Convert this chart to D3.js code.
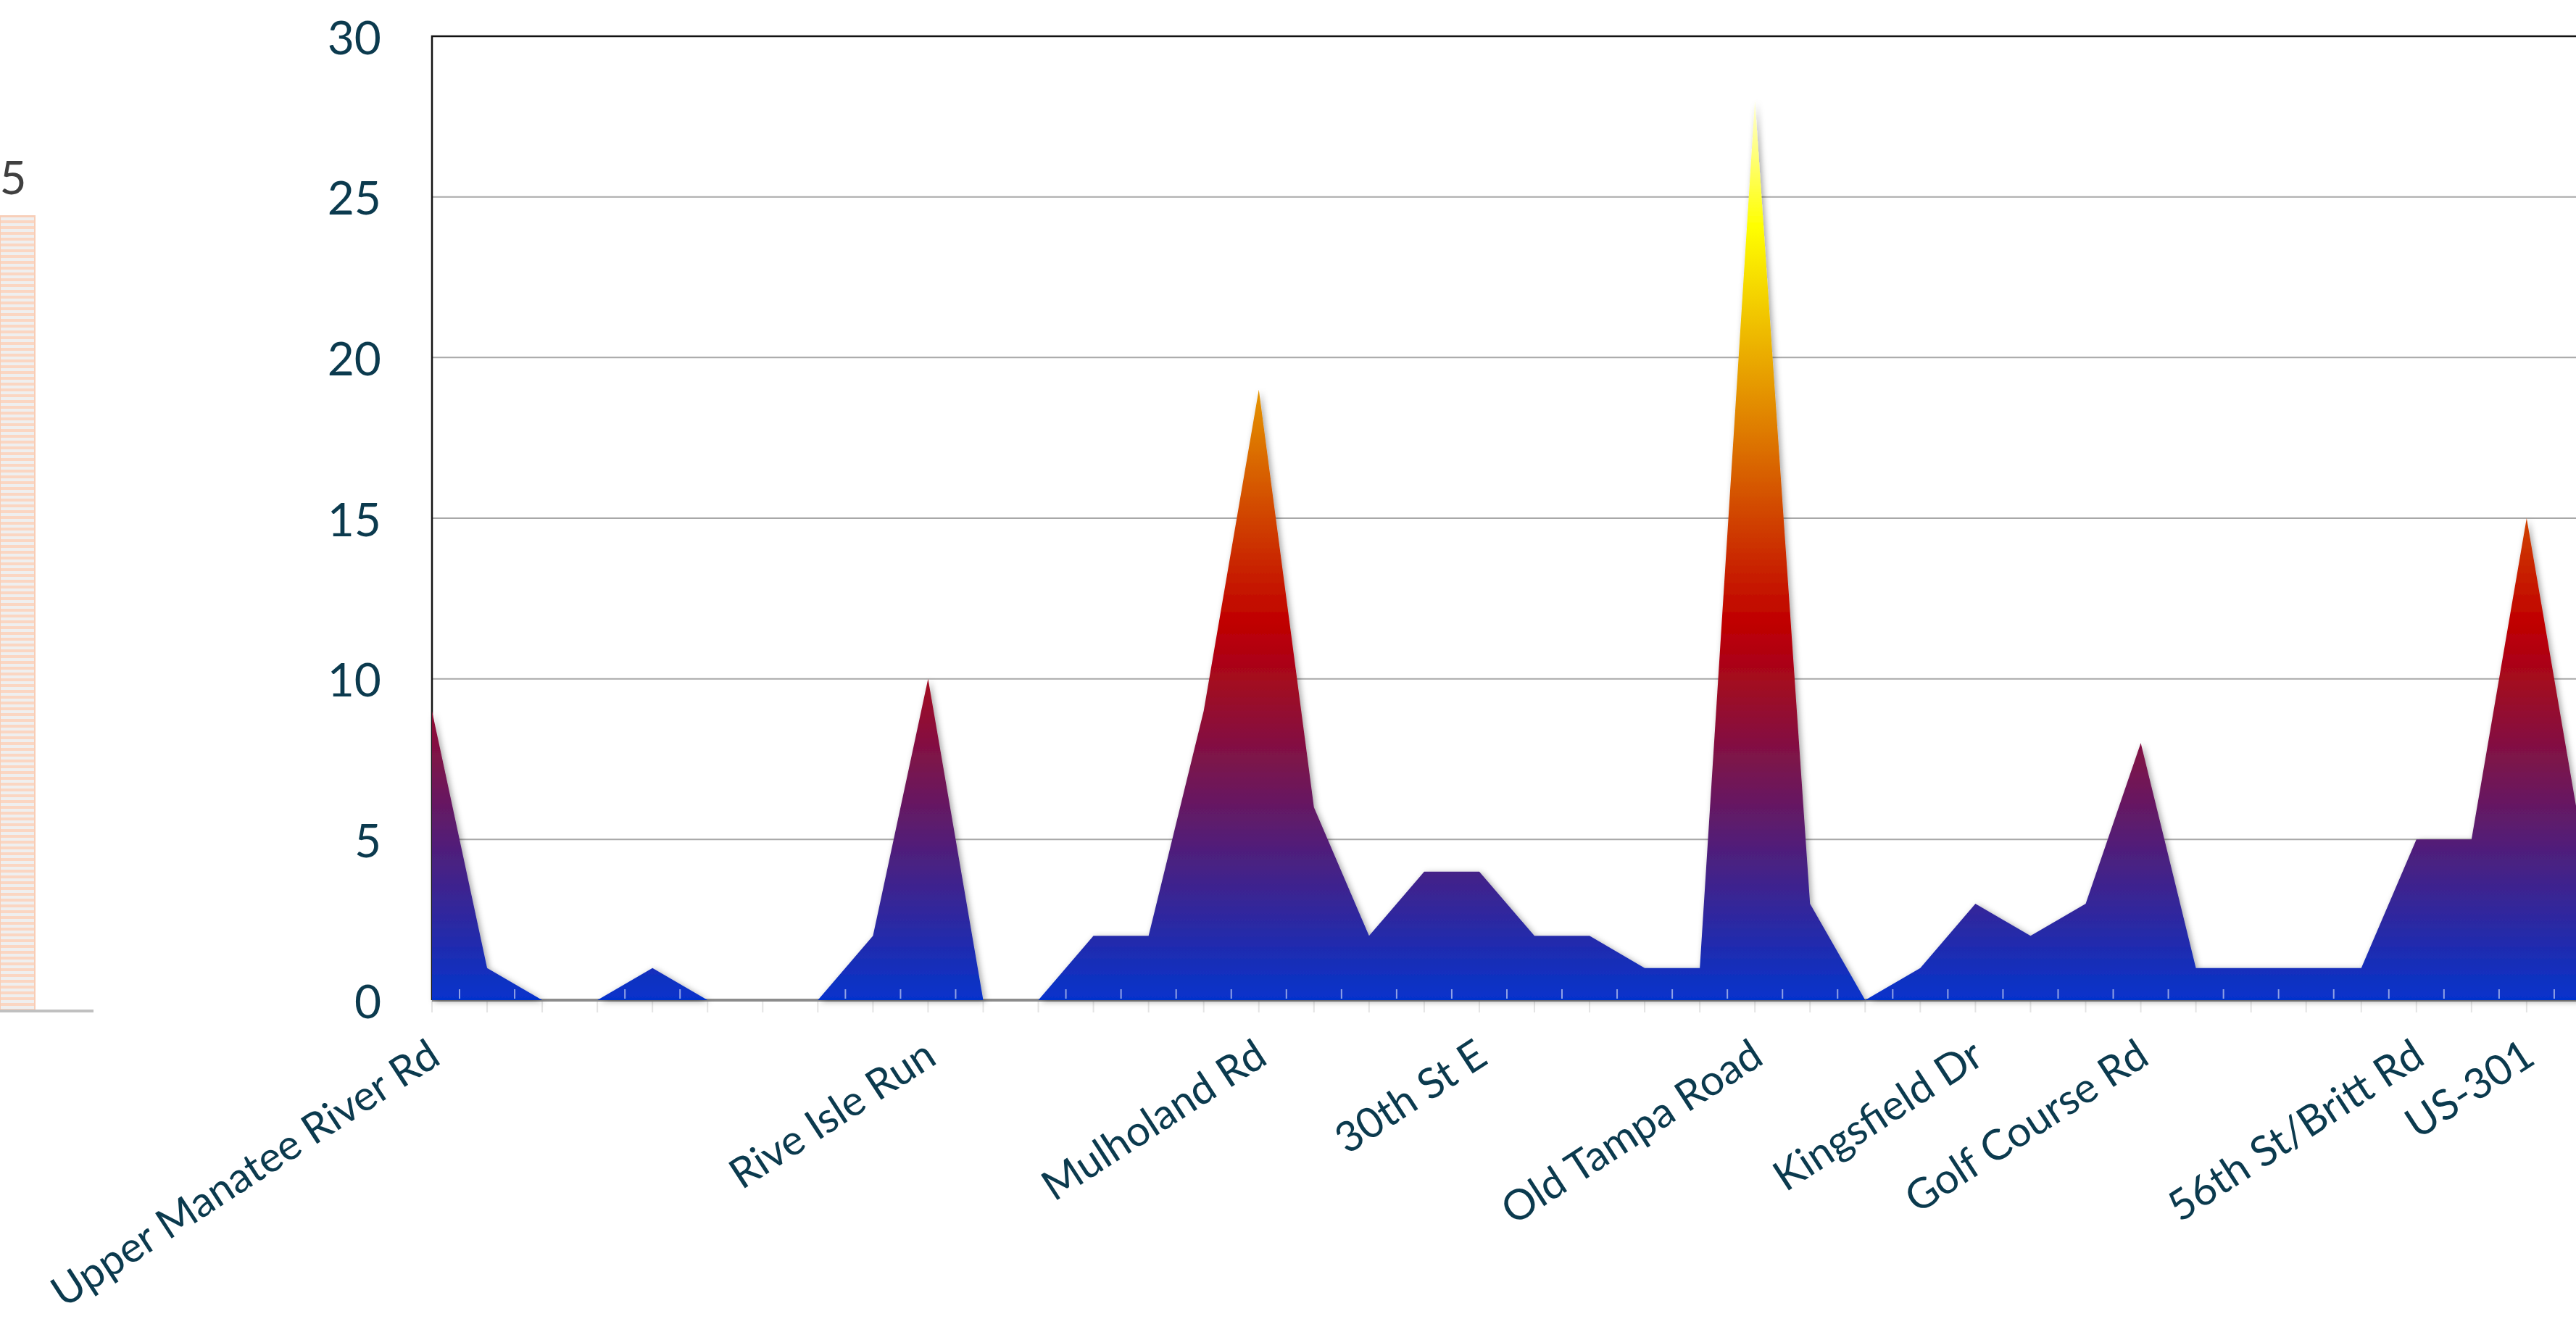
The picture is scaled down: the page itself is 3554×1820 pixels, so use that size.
<!DOCTYPE html>
<html>
<head>
<meta charset="utf-8">
<script src="https://cdn.jsdelivr.net/npm/d3@7"></script>
<style>
  html, body { margin: 0; padding: 0; background: #fff; overflow: hidden; }
  svg { display: block; }
</style>
</head>
<body>
<svg id="chart"></svg>
<script>
const width = 3554, height = 1820;

// one entry per road segment, only some of them carry a label
const roads = ["Upper Manatee River Rd", "", "", "", "", "", "", "", "", "Rive Isle Run",
  "", "", "", "", "", "Mulholand Rd", "", "", "", "30th St E",
  "", "", "", "", "Old Tampa Road", "", "", "", "Kingsfield Dr", "",
  "", "Golf Course Rd", "", "", "", "", "56th St/Britt Rd", "", "US-301", ""];
const counts = [9, 1, 0, 0, 1, 0, 0, 0, 2, 10,
  0, 0, 2, 2, 9, 19, 6, 2, 4, 4,
  2, 2, 1, 1, 28, 3, 0, 1, 3, 2,
  3, 8, 1, 1, 1, 1, 5, 5, 15, 5];
const yTicks = [0, 5, 10, 15, 20, 25, 30];

// the neighbouring chart that is cut off at the left edge
const sideValue = 5;

const plotLeft = 596, plotTop = 50, plotBottom = 1380, step = 76.05;
const textColor = "#0b3a4e";

const svg = d3.select("#chart")
  .attr("width", width)
  .attr("height", height)
  .style("font-family", "Lato, 'Open Sans', sans-serif");

const defs = svg.append("defs");

// fire gradient: blue at the bottom, red in the middle, yellow at the top
const grad = defs.append("linearGradient")
  .attr("id", "fire")
  .attr("gradientUnits", "userSpaceOnUse")
  .attr("x1", 0).attr("x2", 0);
[[0, "#0533cc"], [0.42, "#c00000"], [0.86, "#ffff00"], [1, "#ffffd4"]].forEach(s => {
  grad.append("stop").attr("offset", s[0]).attr("stop-color", s[1]);
});

const shadow = defs.append("filter").attr("id", "shadow")
  .attr("x", "-2%").attr("y", "-5%").attr("width", "104%").attr("height", "110%");
shadow.append("feDropShadow")
  .attr("dx", 3).attr("dy", 2).attr("stdDeviation", 4)
  .attr("flood-color", "#000").attr("flood-opacity", 0.35);

const stripes = defs.append("pattern")
  .attr("id", "stripes")
  .attr("patternUnits", "userSpaceOnUse")
  .attr("width", 8).attr("height", 8);
stripes.append("rect").attr("width", 8).attr("height", 8).attr("fill", "#efefef");
stripes.append("rect").attr("width", 8).attr("height", 4).attr("fill", "#fbd6c2");

// scales
const x = d3.scaleLinear()
  .domain([0, counts.length - 1])
  .range([plotLeft, plotLeft + step * (counts.length - 1)]);
const y = d3.scaleLinear()
  .domain([0, 30])
  .range([plotBottom, plotTop]);

grad.attr("y1", y(0)).attr("y2", y(28));

// side chart stub
const sideY = d3.scaleLinear().domain([0, sideValue]).range([1395, 298]);
svg.append("rect")
  .attr("x", 0).attr("y", sideY(sideValue))
  .attr("width", 48).attr("height", sideY(0) - sideY(sideValue))
  .attr("fill", "url(#stripes)")
  .attr("stroke", "#f7cdb6").attr("stroke-width", 2);
svg.append("line")
  .attr("x1", 0).attr("x2", 129)
  .attr("y1", sideY(0)).attr("y2", sideY(0))
  .attr("stroke", "#c0c0c0").attr("stroke-width", 4);
svg.append("text")
  .attr("x", 18).attr("y", sideY(sideValue) - 55)
  .attr("text-anchor", "middle")
  .attr("dominant-baseline", "central")
  .attr("font-size", 64)
  .attr("fill", "#404040")
  .text(sideValue);

// gridlines
svg.append("g")
  .selectAll("line")
  .data(yTicks.filter(d => d > 0 && d < 30))
  .enter().append("line")
  .attr("x1", plotLeft).attr("x2", width)
  .attr("y1", d => y(d)).attr("y2", d => y(d))
  .attr("stroke", "#a8a8a8").attr("stroke-width", 2);

// plot border (top and left)
svg.append("path")
  .attr("d", `M${width},${y(30)}H${plotLeft}V${y(0)}`)
  .attr("fill", "none")
  .attr("stroke", "#111").attr("stroke-width", 2.5);

// ticks below the axis, at the data points
svg.append("g")
  .selectAll("line")
  .data(d3.range(counts.length))
  .enter().append("line")
  .attr("x1", d => x(d)).attr("x2", d => x(d))
  .attr("y1", y(0)).attr("y2", y(0) + 17)
  .attr("stroke", "#e4e4e4").attr("stroke-width", 2);

// axis line at zero
svg.append("line")
  .attr("x1", plotLeft).attr("x2", width)
  .attr("y1", y(0)).attr("y2", y(0))
  .attr("stroke", "#8c8c8c").attr("stroke-width", 4);

// the area
const area = d3.area()
  .x((d, i) => x(i))
  .y0(y(0))
  .y1(d => y(d));

svg.append("path")
  .datum(counts)
  .attr("d", area)
  .attr("fill", "url(#fire)")
  .attr("filter", "url(#shadow)");

// small ticks above the axis, between the points
svg.append("g")
  .selectAll("line")
  .data(d3.range(counts.length - 1))
  .enter().append("line")
  .attr("x1", d => x(d + 0.5)).attr("x2", d => x(d + 0.5))
  .attr("y1", y(0) - 2).attr("y2", y(0) - 15)
  .attr("stroke", "#ffffff").attr("stroke-opacity", 0.55).attr("stroke-width", 2);

// y labels
svg.append("g")
  .selectAll("text")
  .data(yTicks)
  .enter().append("text")
  .attr("x", 526)
  .attr("y", d => y(d))
  .attr("text-anchor", "end")
  .attr("dominant-baseline", "central")
  .attr("font-size", 64)
  .attr("fill", textColor)
  .text(d => d);

// category labels
const xAxis = svg.append("g")
  .attr("transform", `translate(0,${y(0)})`)
  .call(d3.axisBottom(x)
    .tickValues(d3.range(counts.length))
    .tickSize(0)
    .tickFormat(i => roads[i]));
xAxis.attr("font-family", null).attr("font-size", null);
xAxis.select(".domain").remove();
xAxis.selectAll(".tick text")
  .attr("font-size", 58)
  .attr("fill", textColor)
  .attr("text-anchor", "end")
  .attr("y", 0)
  .attr("dy", 0)
  .attr("transform", "translate(14,86) rotate(-33)");
</script>
</body>
</html>
